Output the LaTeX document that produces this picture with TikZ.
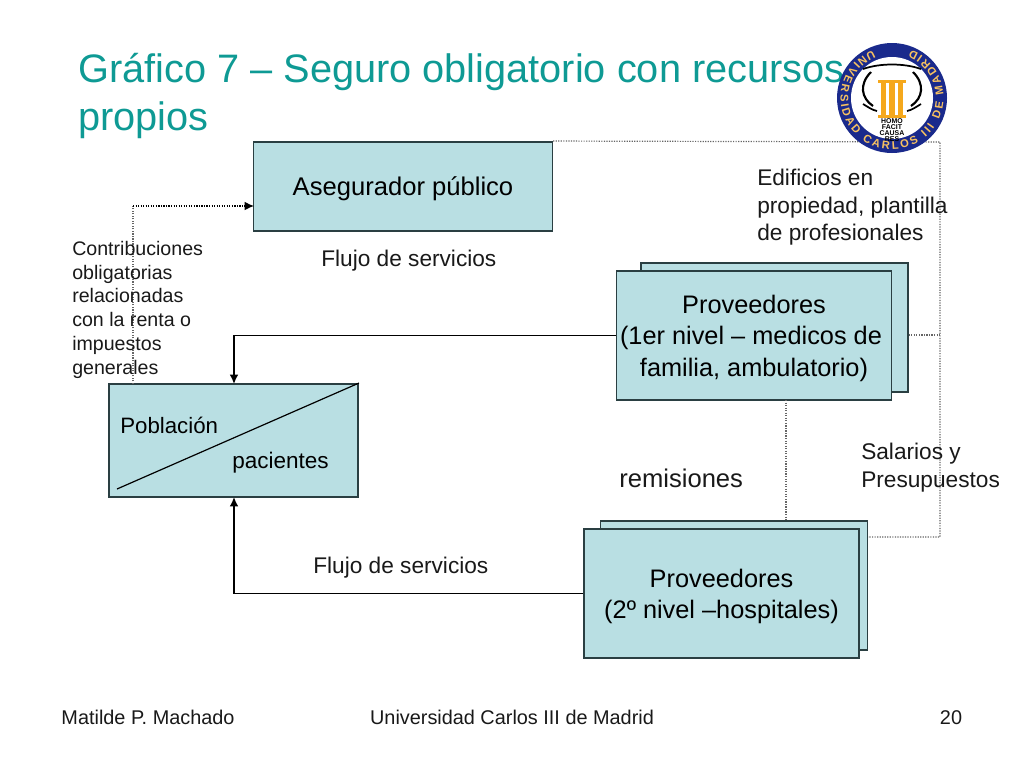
\documentclass[tikz,border=0pt]{standalone}
\usepackage{fontspec}
\setmainfont{Liberation Sans}
\usetikzlibrary{arrows.meta,decorations.text}
\definecolor{boxfill}{HTML}{B9DFE3}
\definecolor{boxline}{HTML}{2A3F42}
\definecolor{titlecol}{HTML}{0E9A94}
\definecolor{crestblue}{HTML}{1A2A8C}
\definecolor{crestgold}{HTML}{F5A81C}
\begin{document}
\begin{tikzpicture}[x=0.75pt,y=-0.75pt,
  panel/.style={shape=rectangle, fill=boxfill, draw=boxline, line width=1.2pt, inner sep=0pt, align=center, text depth=0pt, font=\fontsize{19}{23.5}\selectfont},
  label/.style={inner sep=0pt, align=left, anchor=north west, text=black!90, font=\fontsize{17}{20.6}\selectfont},
  small/.style={inner sep=0pt, align=left, anchor=north west, text=black!90, font=\fontsize{14.7}{17.8}\selectfont},
  foot/.style={inner sep=0pt, anchor=base, text=black!90, font=\fontsize{14.9}{17}\selectfont},
  solidflow/.style={draw=black, line width=1.2pt, -{Latex[length=7pt,width=6.5pt]}},
  dotflow/.style={draw=black!60, line width=0.9pt, densely dotted}]
    \useasboundingbox (0,0) rectangle (1024,768);
    \node[inner sep=0pt, anchor=base west, align=left, text=titlecol, font=\fontsize{29.8}{36}\selectfont] (title) at (78,130) {Gráfico 7 -- Seguro obligatorio con recursos\\propios};

    % dotted connectors go under the boxes
    \coordinate (topcorner) at (940,142);
    \coordinate (lowcorner) at (940,537);
    \coordinate (midjoin) at (940,335);
    \coordinate (leftcorner) at (133,206);
    \coordinate (popleft) at (133,384);
    \coordinate (asegleft) at (254,206);
    \coordinate (refup) at (786,400);
    \coordinate (refdown) at (786,521);

    \node[panel, minimum width=224pt, minimum height=67pt, font=\fontsize{19.2}{23.5}\selectfont] (asegurador) at (403,186.5) {Asegurador público};
    \node[panel, minimum width=200pt, minimum height=97pt] (prov1back) at (774.5,327.5) {};
    \node[panel, minimum width=206pt, minimum height=97pt] (prov1) at (754,335.5) {Proveedores\\\mbox{(1er nivel -- medicos de\hspace{4.5pt}}\\familia, ambulatorio)};
    \node[panel, minimum width=200pt, minimum height=97pt] (prov2back) at (734,585.5) {};
    \node[panel, minimum width=206pt, minimum height=97pt] (prov2) at (721.5,593.5) {Proveedores\\(2º nivel --hospitales)};
    \node[panel, minimum width=187pt, minimum height=85pt] (poblacion) at (233.5,440.5) {};

    \draw[dotflow] (asegurador.north east) -- (topcorner) -- (lowcorner) -- (prov2back.east |- lowcorner);
    \draw[dotflow] (prov1back.east |- midjoin) -- (midjoin);
    \draw[dotflow] (refup) -- (refdown);
    \draw[dotflow] (popleft) -- (leftcorner);
    \draw[draw=black, line width=0.9pt, densely dotted, -{Latex[length=7pt,width=6.5pt]}] (leftcorner) -- (asegleft);

    \coordinate (prov1out) at (prov1.west);
    \coordinate (prov2out) at (prov2.west);
    \coordinate (popin1) at (234,384);
    \coordinate (popin2) at (234,497);
    \draw[solidflow] (prov1out) -- (popin1 |- prov1out) -- (popin1);
    \draw[solidflow] (prov2out) -- (popin2 |- prov2out) -- (popin2);

    \coordinate (slashA) at (117,489);
    \draw[black, line width=0.9pt] (slashA) -- (poblacion.north east);
    \node[inner sep=0pt, anchor=base west, font=\fontsize{16.7}{18}\selectfont] (poblaciontxt) at (120,433) {Población};
    \node[inner sep=0pt, anchor=base west, font=\fontsize{16.9}{18}\selectfont] (pacientes) at (232,468) {pacientes};

    \node[label] (flujo1) at (321,250) {Flujo de servicios};
    \node[label] (flujo2) at (313,557) {Flujo de servicios};
    \node[label] (edificios) at (757,169) {Edificios en\\propiedad, plantilla\\de profesionales};
    \node[label] (salarios) at (861,443) {Salarios y\\Presupuestos};
    \node[inner sep=0pt, anchor=north west, text=black!90, font=\fontsize{19.2}{22}\selectfont] (remisiones) at (619,469) {remisiones};
    \node[small] (contrib) at (72,241) {Contribuciones\\obligatorias\\relacionadas\\con la renta o\\impuestos\\generales};

    \node[foot] (autor) at (148,724) {Matilde P. Machado};
    \node[foot] (univ) at (512,724) {Universidad Carlos III de Madrid};
    \node[foot] (pagina) at (951,724) {20};

    % crest
    \begin{scope}[shift={(892,98)},yscale=-1]
      \fill[crestblue] (0,0) circle (55);
      \fill[white] (0,0) circle (41);
      \draw[black, line width=1.6pt] (-21,26) .. controls (-33,14) and (-31,0) .. (-19,-8);
      \draw[black, line width=1.6pt] (21,26) .. controls (33,14) and (31,0) .. (19,-8);
      \draw[black, line width=1.3pt] (-29,29) .. controls (-12,35) and (12,35) .. (29,29);
      \draw[black, line width=1.3pt] (-29,-6) .. controls (-24,-9) and (-20,-12) .. (-15,-13);
      \draw[black, line width=1.3pt] (29,-6) .. controls (24,-9) and (20,-12) .. (15,-13);
      \fill[crestgold] (-14,18) rectangle (14,15.5);
      \fill[crestgold] (-14,-17) rectangle (14,-20);
      \foreach \k in {-8.5,0,8.5} \fill[crestgold] (\k-2.6,18) rectangle (\k+2.6,-20);
      \node[inner sep=0pt, align=center, text=black, font=\fontsize{5.2}{3.4}\selectfont\bfseries] (lema) at (0,-32) {HOMO\\FACIT\\CAUSA\\RES};
      \path[postaction={decorate,decoration={text along path, text align=fit to path,
        text={|\fontsize{8.4}{9}\selectfont\bfseries\color{crestgold!70!white}|UNIVERSIDAD CARLOS III DE MADRID}}}]
        (112:51.5) arc[start angle=112, end angle=428, radius=51.5];
    \end{scope}
  \end{tikzpicture}
\end{document}
